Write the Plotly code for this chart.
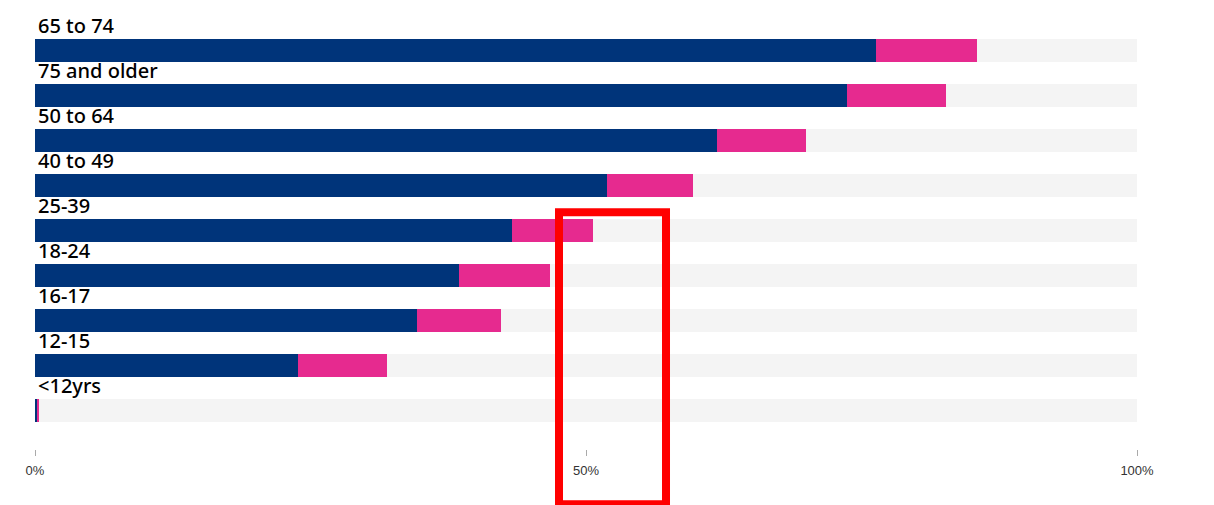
import plotly.graph_objects as go

# 데이터 (위에서 아래 순서)
age_groups = ["65 to 74", "75 and older", "50 to 64", "40 to 49", "25-39",
              "18-24", "16-17", "12-15", "<12yrs"]
fully_vaccinated = [76.3, 73.7, 61.9, 51.9, 43.3, 38.5, 34.7, 23.9, 0.2]
partially_vaccinated = [9.2, 9.0, 8.1, 7.8, 7.3, 8.2, 7.6, 8.0, 0.15]
total = [100] * len(age_groups)

tick_vals = [0, 50, 100]
tick_text = ["0%", "50%", "100%"]

# y 위치: 위쪽이 첫번째 카테고리
ypos = list(range(len(age_groups) - 1, -1, -1))

fig = go.Figure()

# 배경 회색 바
fig.add_trace(go.Bar(
    x=total, y=ypos, orientation="h", width=0.51,
    marker=dict(color="#f4f4f4", line=dict(width=0)),
    hoverinfo="skip", showlegend=False,
))
fig.add_trace(go.Bar(
    x=fully_vaccinated, y=ypos, orientation="h", width=0.51,
    marker=dict(color="#00347a", line=dict(width=0)),
    name="Fully vaccinated", showlegend=False,
))
fig.add_trace(go.Bar(
    x=partially_vaccinated, y=ypos, base=fully_vaccinated, orientation="h", width=0.51,
    marker=dict(color="#e62a8f", line=dict(width=0)),
    name="Partially vaccinated", showlegend=False,
))

# 바 위의 라벨
for label, yp in zip(age_groups, ypos):
    fig.add_annotation(
        x=0, y=yp + 0.25, xref="x", yref="y",
        text=label, showarrow=False,
        xanchor="left", yanchor="bottom", xshift=1, yshift=-2,
        font=dict(family="Noto Sans", size=20, color="#000", weight=500),
    )

# 빨간 강조 박스
fig.add_shape(
    type="rect", xref="paper", yref="paper",
    x0=0.4755, x1=0.5726, y0=-0.125, y1=0.537,
    line=dict(color="#ff0000", width=8), fillcolor="rgba(0,0,0,0)",
)

fig.update_layout(
    width=1214, height=505,
    margin=dict(l=27, r=85, t=0, b=64),
    barmode="overlay",
    plot_bgcolor="white", paper_bgcolor="white",
    xaxis=dict(
        range=[0, 100], tickvals=tick_vals, ticktext=tick_text,
        ticks="outside", ticklen=6, tickcolor="#aaaaaa", tickwidth=1,
        ticklabelstandoff=3,
        showgrid=False, zeroline=False, showline=False,
        tickfont=dict(family="Liberation Sans", size=13, color="#333"),
    ),
    yaxis=dict(
        range=[-0.856, 8.944], showticklabels=False, showgrid=False,
        zeroline=False, showline=False,
    ),
    bargap=0,
)

fig.write_html("out.html")
